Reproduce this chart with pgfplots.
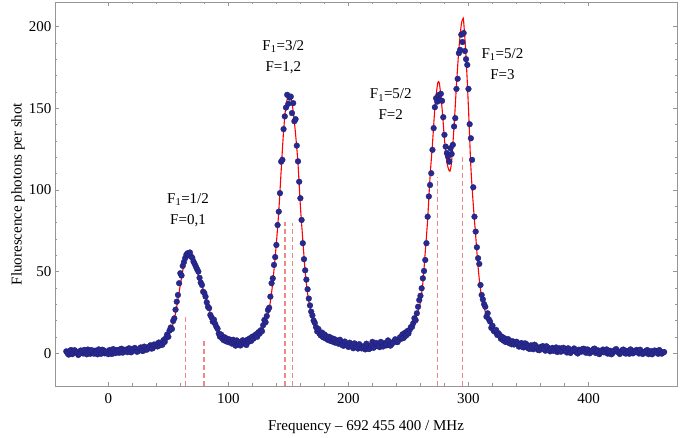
\documentclass[border=0pt]{standalone}
\usepackage{fontspec}
\setmainfont{Liberation Serif}
\usepackage{pgfplots}
\pgfplotsset{compat=1.18}
\definecolor{dotblue}{RGB}{40,40,145}
\definecolor{dashred}{RGB}{238,135,135}
\definecolor{framegray}{RGB}{150,150,150}
\begin{document}
\begin{tikzpicture}
\useasboundingbox (-55pt,-52pt) rectangle (625pt,386pt);
\begin{axis}[
  scale only axis, width=622pt, height=384pt,
  xmin=-44.4, xmax=473.7, ymin=-20, ymax=215,
  xtick={0,100,200,300,400}, ytick={0,50,100,150,200},
  minor x tick num=4, minor y tick num=4,
  tick align=inside, major tick length=4pt, minor tick length=2.5pt,
  axis line style={framegray, line width=0.7pt},
  tick style={framegray, line width=0.6pt},
  every tick label/.append style={font=\fontsize{15}{18}\selectfont, text=black},
  /pgf/number format/assume math mode=true,
  xticklabel style={yshift=-4pt},
  xlabel={Frequency -- 692 455 400 / MHz},
  ylabel={Fluorescence photons per shot},
  label style={font=\fontsize{15}{18}\selectfont},
  xlabel style={at={(axis description cs:0.5,-0.1068)}, anchor=center},
  ylabel style={at={(axis description cs:-0.0595,0.5)}, anchor=center},
]
% dashed component markers
\addplot[dashred, dash pattern=on 5pt off 3pt, line width=1.3pt] coordinates {(64.5,-20) (64.5,22.4)};
\addplot[dashred, dash pattern=on 5pt off 3pt, line width=1.3pt] coordinates {(79.7,-20) (79.7,8.2)};
\addplot[dashred, dash pattern=on 5pt off 3pt, line width=1.3pt] coordinates {(147.2,-20) (147.2,80.6)};
\addplot[dashred, dash pattern=on 5pt off 3pt, line width=1.3pt] coordinates {(153.6,-20) (153.6,80.0)};
\addplot[dashred, dash pattern=on 5pt off 3pt, line width=1.3pt] coordinates {(274.4,-20) (274.4,108.0)};
\addplot[dashred, dash pattern=on 5pt off 3pt, line width=1.3pt] coordinates {(295.3,-20) (295.3,120.4)};
% measured data
\addplot[only marks, mark=*, mark size=2.9pt, mark options={fill=dotblue, draw=dotblue!80!black, line width=0.3pt}] coordinates {
(-35,1.2) (-33,-0.8) (-31,2.0) (-29,0.2) (-27,0.9) (-25,-1.0) (-23,1.7) (-21,-0.1) (-19,0.8) (-17,2.3)
(-15,-0.3) (-13,0.3) (-11,1.6) (-9,-0.6) (-7,1.4) (-5,2.2) (-3,0.0) (-1,0.9) (1,2.0) (3,-0.4)
(5,1.5) (7,2.0) (9,0.3) (11,2.8) (13,1.0) (15,1.5) (17,3.0) (19,0.6) (21,2.5) (23,2.3)
(25,1.5) (27,3.6) (29,1.5) (31,3.6) (33,2.8) (35,4.9) (37,3.1) (39,4.9)
(-34,0.1) (-32,1.5) (-30,-0.5) (-28,1.9) (-26,0.6) (-24,-0.2) (-22,1.3) (-20,2.1) (-18,-0.6) (-16,1.0)
(-14,2.0) (-12,-0.2) (-10,0.5) (-8,2.4) (-6,-0.3) (-4,1.8) (-2,1.1) (0,-0.5) (2,1.2) (4,2.6)
(6,0.1) (8,1.7) (10,2.5) (12,0.4) (14,2.2) (16,0.7) (18,2.9) (20,1.3) (22,3.3) (24,0.9)
(26,2.8) (28,1.6) (30,4.1) (32,2.2) (34,3.9) (36,2.9) (38,5.4)
(40,5.5) (41,4.2) (42,6.6) (43,4.9) (44,6.4) (45,5.2) (46,8.1) (47,7.0) (48,9.4) (49,11.5)
(50,10.1) (51,13.9) (52,15.8) (53,14.9) (54,19.8) (55,21.4) (56,26.7) (57,31.6) (58,35.7) (59,42.9)
(60,49.0) (61,47.6) (62,53.5) (63,55.8) (64,58.2) (65,60.3) (66,61.2) (67,60.2) (68,61.7) (69,59.2)
(70,58.4) (71,56.1) (72,54.6) (73,53.0) (74,51.4) (75,50.0) (76,46.2) (77,43.3) (78,41.8) (79,37.7)
(80,36.9) (81,34.7) (82,31.2) (83,28.5) (84,27.6) (85,23.5) (86,22.0) (87,19.4) (88,20.6) (89,18.1)
(90,16.3) (91,15.0) (92,12.1) (93,10.2) (94,11.5) (95,9.0) (96,8.1) (97,9.8) (98,7.4) (99,8.9)
(100,6.8) (101,8.5) (102,7.2) (103,5.9) (104,8.3) (105,6.6) (106,4.7) (107,7.9) (108,5.6) (109,6.9)
(110,4.8) (111,6.1) (112,8.0) (113,5.9) (114,7.0) (115,5.1) (116,8.4) (117,7.1) (118,9.2) (119,7.6)
(120,10.2) (121,9.0) (122,10.8) (123,11.6) (124,10.1) (125,12.9) (126,12.0) (127,14.1) (128,13.5) (129,17.2)
(130,20.4) (131,19.0) (132,22.8) (133,26.5) (134,27.9) (135,34.7) (136,42.9) (137,45.9) (138,54.1) (139,58.9)
(140,66.3) (141,78.5) (142,86.7) (143,98.0) (144,117.3) (145,118.4) (146,137.2) (147,145.0) (148,150.4) (149,158.2)
(150,152.7) (151,156.5) (152,157.1) (153,147.0) (154,153.1) (155,142.0) (156,143.3) (157,127.1) (158,117.5) (159,105.0)
(160,94.9) (161,81.6) (162,67.4) (163,57.6) (164,50.8) (165,45.1) (166,39.2) (167,33.5) (168,29.3) (169,25.5)
(170,23.2) (171,20.1) (172,18.6) (173,16.0) (174,13.4) (175,14.9) (176,12.0) (177,10.9) (178,12.7) (179,9.8)
(180,11.6) (181,9.1) (182,10.4) (183,8.2) (184,10.1) (185,7.6) (186,9.3) (187,7.1) (188,8.8) (189,6.5)
(190,8.0) (192,5.8) (194,6.9) (196,4.6) (198,5.9) (200,3.9) (202,5.4) (204,3.1) (206,4.8) (208,2.9)
(210,4.7) (212,3.5) (214,2.4) (216,4.6) (218,3.0) (220,7.0) (222,4.1) (224,5.9) (226,3.8) (228,5.0)
(230,6.2) (232,4.9) (234,6.8) (236,5.6) (238,7.4) (240,7.0) (242,8.5) (244,8.9)
(191,6.9) (193,8.3) (195,5.0) (197,7.2) (199,4.8) (201,6.5) (203,4.4) (205,6.1) (207,3.7) (209,5.6)
(211,3.0) (213,4.2) (215,5.9) (217,2.6) (219,4.9) (221,3.4) (223,6.3) (225,4.5) (227,7.0) (229,4.2)
(231,5.7) (233,7.9) (235,4.7) (237,6.4) (239,8.6) (241,6.9) (243,9.8)
(245,11.6) (246,9.4) (247,12.5) (248,10.8) (249,13.6) (250,12.1) (251,14.3) (252,16.0) (253,16.2) (254,18.4)
(255,21.5) (256,20.3) (257,24.5) (258,28.5) (259,32.6) (260,35.2) (261,39.8) (262,45.9) (263,50.4) (264,57.1)
(265,67.4) (266,83.6) (267,96.0) (268,103.0) (269,110.2) (270,124.5) (271,137.8) (272,150.6) (273,156.1) (274,154.0)
(275,158.0) (276,155.2) (277,158.8) (278,154.5) (279,144.5) (280,133.7) (281,126.5) (282,122.5) (283,120.4) (284,117.3)
(285,125.5) (286,122.0) (287,127.6) (288,138.8) (289,143.9) (290,161.8) (291,168.0) (292,183.7) (293,185.7) (294,195.0)
(295,190.5) (296,196.0) (297,185.0) (298,180.0) (299,176.5) (300,161.8) (301,140.2) (302,131.6) (303,118.4) (304,101.6)
(305,83.6) (306,74.5) (307,64.9) (308,58.2) (309,54.7) (310,41.8) (311,35.7) (312,33.0) (313,30.1) (314,28.5)
(315,22.4) (316,24.5) (317,20.8) (318,19.4) (319,15.6) (320,16.9) (321,13.8) (322,13.2) (323,14.3) (324,11.2)
(325,12.3) (326,11.2) (327,8.9) (328,10.1) (329,7.8) (330,9.2) (331,6.9) (332,8.1) (333,8.7) (334,6.2)
(335,7.6) (336,5.5) (337,7.3) (338,5.4) (339,6.8) (340,7.1)
(342,4.1) (344,6.3) (346,3.6) (348,5.8) (350,3.0) (352,4.9) (354,2.5) (356,4.6) (358,2.1) (360,3.9)
(362,4.4) (364,1.6) (366,3.6) (368,1.2) (370,3.3) (372,2.9) (374,0.8) (376,3.1) (378,1.4) (380,2.7)
(382,0.5) (384,2.4) (386,1.1) (388,3.0) (390,0.6) (392,2.2) (394,1.0) (396,2.8) (398,0.3) (400,1.9)
(402,0.7) (404,2.5) (406,0.2) (408,1.8) (410,0.4) (412,2.3) (414,1.4) (416,-0.2) (418,1.6) (420,0.1)
(422,2.0) (424,0.9) (426,-0.4) (428,1.9) (430,0.3) (432,1.5) (434,-0.3) (436,1.7) (438,0.6) (440,2.1)
(442,-0.1) (444,1.2) (446,0.0) (448,1.6) (450,-0.5) (452,1.3) (454,0.2) (456,1.5) (458,-0.3) (460,1.0)
(462,0.4)
(341,5.6) (343,4.8) (345,3.9) (347,6.1) (349,4.4) (351,2.7) (353,3.8) (355,5.3) (357,3.2) (359,1.9)
(361,3.0) (363,2.6) (365,4.3) (367,2.1) (369,2.8) (371,1.5) (373,3.6) (375,2.0) (377,1.0) (379,3.4)
(381,1.7) (383,3.1) (385,0.2) (387,2.0) (389,1.8) (391,-0.1) (393,1.5) (395,2.6) (397,0.9) (399,2.4)
(401,0.0) (403,1.6) (405,2.9) (407,1.1) (409,-0.5) (411,1.3) (413,0.6) (415,2.4) (417,0.8) (419,-0.6)
(421,1.4) (423,2.6) (425,1.0) (427,0.5) (429,2.3) (431,-0.2) (433,1.0) (435,2.4) (437,0.0) (439,1.1)
(441,0.9) (443,2.2) (445,-0.4) (447,0.8) (449,2.0) (451,0.5) (453,-0.6) (455,1.7) (457,0.4) (459,2.0)
(461,-0.2) (463,0.8)
};
% fitted curve
\addplot[red, line width=1.1pt, smooth] coordinates {
(-34,0.45) (-30,0.5) (-20,0.6) (-10,0.8) (0,1.0) (10,1.4) (20,2.0) (26,2.4) (30,2.9) (35,3.6)
(40,4.8) (44,5.8) (46,6.8) (48,8.7) (50,10.8) (52,14.0) (54,18.2) (56,24.5) (58,33) (60,42)
(62,50.5) (64,57.5) (66,61.5) (67.5,62.8) (69,61.5) (71,57.5) (73,52.5) (75,47.5) (77,43.5) (79,39.0)
(81,34.5) (83,29.5) (85,24.5) (87,21.5) (89,17.5) (91,13.8) (93,11.3) (95,9.9) (98,8.7) (101,7.9)
(105,7.3) (109,7.1) (113,7.4) (117,8.0) (121,9.2) (124,10.8) (127,13.0) (130,16.5) (132,20.5) (134,27.0)
(136,37.0) (138,51.0) (140,67.5) (142,87.0) (144,112.0) (146,136.0) (148,152.0) (150,157.5) (151,158.2) (152,157.0)
(154,148.0) (156,134.0) (158,116.0) (160,90.0) (162,69.5) (164,50.0) (166,36.5) (168,28.0) (170,22.0) (172,17.5)
(175,13.5) (178,11.5) (182,9.8) (186,8.6) (190,7.6) (195,6.6) (200,5.9) (206,5.3) (212,5.1) (218,5.3)
(224,5.8) (230,6.7) (236,7.7) (240,8.4) (244,10.0) (248,12.0) (251,14.0) (254,18.5) (256,21.5) (258,25.5)
(260,31.5) (262,43.0) (264,62.0) (266,82.0) (268,108.0) (270,128.0) (272,150.0) (274,163.5) (275,166.3) (276,164.0)
(278,150.0) (280,131.0) (282,117.0) (284,111.6) (285,112.5) (286,118.0) (288,139.0) (290,164.0) (292,186.0) (294,201.0)
(295.3,204.5) (296,203.0) (298,181.0) (300,150.0) (302,114.0) (304,91.0) (306,72.0) (308,53.0) (310,39.0) (312,31.5)
(314,25.5) (316,21.0) (318,18.0) (321,14.5) (324,12.0) (328,9.0) (332,7.6) (337,6.4) (345,5.0) (352,3.9)
(360,3.2) (370,2.5) (380,2.0) (390,1.5) (400,1.3) (415,1.0) (430,0.8) (445,0.7) (462,0.6)
};
% annotations
\node[align=center, font=\fontsize{15}{21}\selectfont] at (axis cs:66.4,87.6) {F\textsubscript{1}=1/2\\F=0,1};
\node[align=center, font=\fontsize{15}{21}\selectfont] at (axis cs:145.8,181.4) {F\textsubscript{1}=3/2\\F=1,2};
\node[align=center, font=\fontsize{15}{21}\selectfont] at (axis cs:235.3,152.3) {F\textsubscript{1}=5/2\\F=2};
\node[align=center, font=\fontsize{15}{21}\selectfont] at (axis cs:328.3,176.8) {F\textsubscript{1}=5/2\\F=3};
\end{axis}
\end{tikzpicture}
\end{document}
